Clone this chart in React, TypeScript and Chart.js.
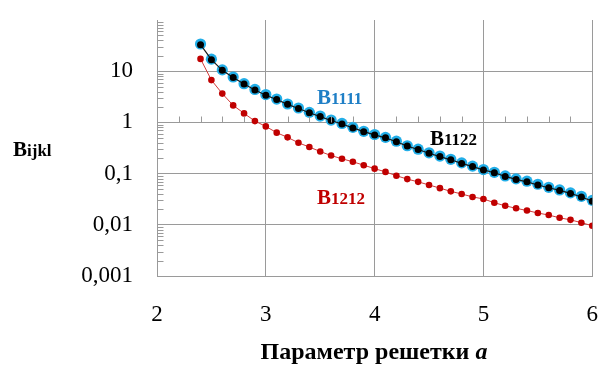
import React, { useEffect, useRef } from "react";
import { Chart, registerables } from "chart.js";

Chart.register(...registerables);

// Lattice parameter a
const latticeA = [
  2.4, 2.5, 2.6, 2.7, 2.8, 2.9, 3.0, 3.1, 3.2, 3.3, 3.4, 3.5, 3.6, 3.7, 3.8, 3.9,
  4.0, 4.1, 4.2, 4.3, 4.4, 4.5, 4.6, 4.7, 4.8, 4.9, 5.0, 5.1, 5.2, 5.3, 5.4, 5.5,
  5.6, 5.7, 5.8, 5.9, 6.0,
];

const b1111 = [
  34, 17.2, 10.6, 7.7, 5.7, 4.4, 3.5, 2.86, 2.29, 1.91, 1.57, 1.33, 1.11, 0.955,
  0.8, 0.67, 0.58, 0.51, 0.43, 0.35, 0.3, 0.255, 0.22, 0.19, 0.162, 0.14, 0.12,
  0.106, 0.09, 0.079, 0.071, 0.062, 0.054, 0.048, 0.042, 0.036, 0.03,
];

const b1122 = [
  33, 16.8, 10.4, 7.5, 5.6, 4.3, 3.4, 2.8, 2.25, 1.87, 1.54, 1.3, 1.09, 0.93,
  0.78, 0.66, 0.57, 0.5, 0.42, 0.345, 0.295, 0.25, 0.215, 0.186, 0.158, 0.137,
  0.118, 0.104, 0.088, 0.077, 0.069, 0.06, 0.053, 0.047, 0.041, 0.035, 0.029,
];

const b1212 = [
  17.4, 6.7, 3.65, 2.15, 1.5, 1.06, 0.835, 0.63, 0.51, 0.4, 0.33, 0.27, 0.225,
  0.195, 0.17, 0.146, 0.125, 0.108, 0.091, 0.078, 0.069, 0.06, 0.052, 0.045, 0.04,
  0.035, 0.032, 0.027, 0.0235, 0.021, 0.019, 0.017, 0.0155, 0.0137, 0.0125,
  0.011, 0.0096,
];

const yDecades = [0.001, 0.01, 0.1, 1, 10, 100];

const GRID = "#9a9a9a";
const SERIF = '"Liberation Serif", "Times New Roman", serif';

const toPoints = (ys: number[]) => latticeA.map((x, i) => ({ x, y: ys[i] }));

// Text drawn with a large "B" and smaller index characters on the same baseline
function drawIndexed(
  ctx: CanvasRenderingContext2D,
  x: number,
  y: number,
  head: string,
  tail: string,
  headSize: number,
  tailSize: number,
  color: string
) {
  ctx.fillStyle = color;
  ctx.textBaseline = "alphabetic";
  ctx.textAlign = "left";
  ctx.font = `bold ${headSize}px ${SERIF}`;
  ctx.fillText(head, x, y);
  const w = ctx.measureText(head).width;
  ctx.font = `bold ${tailSize}px ${SERIF}`;
  ctx.fillText(tail, x + w, y);
}

const decorPlugin = {
  id: "decor",
  afterDraw(chart: any) {
    const { ctx, scales } = chart;
    const xs = scales.x;
    const ys = scales.y;
    ctx.save();

    // minor log ticks along the left axis
    ctx.strokeStyle = GRID;
    ctx.lineWidth = 1;
    const left = Math.round(xs.left) + 0.5;
    for (let d = 0.001; d < 90; d *= 10) {
      for (let m = 2; m <= 9; m++) {
        const py = Math.round(ys.getPixelForValue(d * m)) + 0.5;
        ctx.beginPath();
        ctx.moveTo(left, py);
        ctx.lineTo(left + 6, py);
        ctx.stroke();
      }
    }

    // minor ticks on the horizontal axis crossing at 1
    const y1 = Math.round(ys.getPixelForValue(1)) + 0.5;
    for (let k = 1; k < 20; k++) {
      if (k % 5 === 0) continue;
      const px = Math.round(xs.getPixelForValue(2 + k * 0.2)) + 0.5;
      ctx.beginPath();
      ctx.moveTo(px, y1);
      ctx.lineTo(px, y1 - 6);
      ctx.stroke();
    }

    // series labels
    drawIndexed(ctx, 317, 104, "B", "1111", 21, 17, "#1f7fc6");
    drawIndexed(ctx, 430, 145, "B", "1122", 21, 17, "#000000");
    drawIndexed(ctx, 317, 204, "B", "1212", 21, 17, "#c00000");

    // y axis title
    drawIndexed(ctx, 13, 156, "B", "ijkl", 21, 17, "#000000");

    // x axis title
    const size = 24;
    ctx.fillStyle = "#000";
    ctx.font = `bold ${size}px ${SERIF}`;
    const main = "Параметр решетки ";
    const wMain = ctx.measureText(main).width;
    ctx.font = `bold italic ${size}px ${SERIF}`;
    const wA = ctx.measureText("a").width;
    const startX = 374 - (wMain + wA) / 2;
    ctx.textAlign = "left";
    ctx.textBaseline = "alphabetic";
    ctx.font = `bold ${size}px ${SERIF}`;
    ctx.fillText(main, startX, 359);
    ctx.font = `bold italic ${size}px ${SERIF}`;
    ctx.fillText("a", startX + wMain, 359);

    ctx.restore();
  },
};

export default function App() {
  const canvasRef = useRef<HTMLCanvasElement | null>(null);

  useEffect(() => {
    if (!canvasRef.current) return;
    const chart = new Chart(canvasRef.current, {
      type: "scatter",
      data: {
        datasets: [
          {
            label: "B1122",
            data: toPoints(b1122),
            showLine: true,
            borderColor: "#1a1a1a",
            borderWidth: 1.2,
            pointRadius: 3.5,
            pointBackgroundColor: "#000000",
            pointBorderWidth: 0,
            order: 1,
          },
          {
            label: "B1111",
            data: toPoints(b1111),
            showLine: false,
            borderColor: "#22aee8",
            pointRadius: 5.6,
            pointBackgroundColor: "#22aee8",
            pointBorderWidth: 0,
            order: 2,
          },
          {
            label: "B1212",
            data: toPoints(b1212),
            showLine: true,
            borderColor: "#d23a3a",
            borderWidth: 1,
            pointRadius: 3.3,
            pointBackgroundColor: "#c00000",
            pointBorderWidth: 0,
            order: 3,
          },
        ],
      },
      options: {
        animation: false,
        responsive: false,
        maintainAspectRatio: false,
        layout: { padding: { left: 0, right: 5, top: 20, bottom: 0 } },
        plugins: { legend: { display: false }, tooltip: { enabled: false } },
        scales: {
          x: {
            type: "linear",
            min: 2,
            max: 6,
            ticks: {
              stepSize: 1,
              padding: 0,
              color: "#000",
              font: { family: SERIF, size: 23 },
            },
            grid: {
              color: GRID,
              lineWidth: 1,
              drawTicks: true,
              tickLength: 25,
              tickColor: "rgba(0,0,0,0)",
            },
            border: { display: true, color: GRID },
            afterFit: (s: any) => {
              s.height = 89;
            },
          },
          y: {
            type: "logarithmic",
            min: 0.001,
            max: 100,
            afterBuildTicks: (s: any) => {
              s.ticks = yDecades.map((v) => ({ value: v }));
            },
            ticks: {
              padding: 0,
              color: "#000",
              font: { family: SERIF, size: 23 },
              callback: (v: any) =>
                Number(v) >= 100 ? "" : String(Number(v)).replace(".", ","),
            },
            grid: {
              color: (c: any) => (c.tick && c.tick.value >= 100 ? "rgba(0,0,0,0)" : GRID),
              lineWidth: 1,
              drawTicks: true,
              tickLength: 24,
              tickColor: "rgba(0,0,0,0)",
            },
            border: { display: true, color: GRID },
            afterFit: (s: any) => {
              s.width = 157;
            },
          },
        },
      },
      plugins: [decorPlugin],
    });
    return () => chart.destroy();
  }, []);

  return (
    <div style={{ position: "fixed", left: 0, top: 0, width: 598, height: 365, background: "#fff" }}>
      <canvas ref={canvasRef} width={598} height={365} style={{ width: 598, height: 365 }} />
    </div>
  );
}
